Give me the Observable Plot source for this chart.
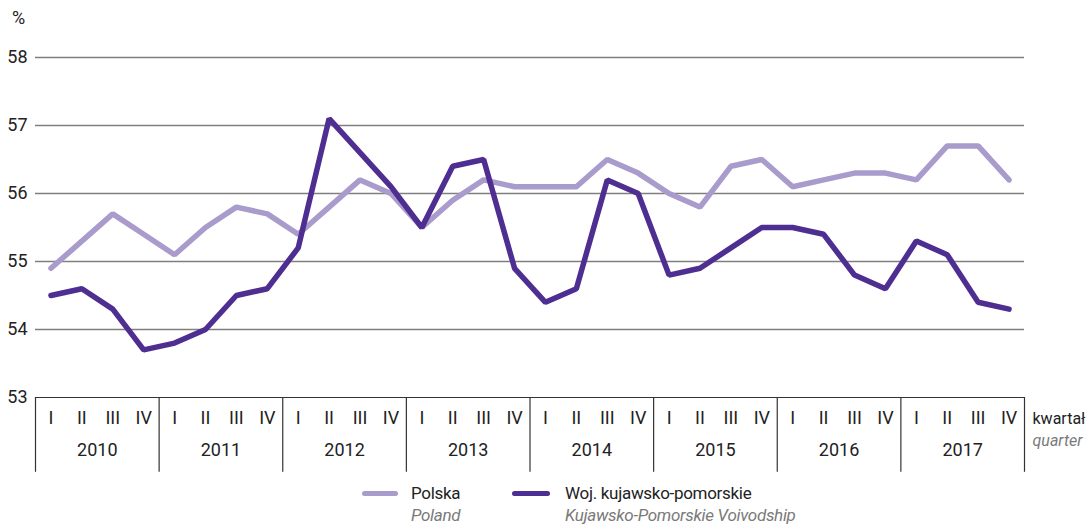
<!DOCTYPE html>
<html>
<head>
<meta charset="utf-8">
<script src="https://cdn.jsdelivr.net/npm/d3@7"></script>
<script src="https://cdn.jsdelivr.net/npm/@observablehq/plot@0.6"></script>
<style>
  html, body { margin: 0; padding: 0; background: #fff; }
  #wrap { position: relative; width: 1086px; height: 524px; font-family: Roboto, "Liberation Sans", sans-serif; color: #222; }
  #chart svg { display: block; }
  .leg { position: absolute; font-size: 17px; line-height: 22px; letter-spacing: -0.3px; white-space: nowrap; }
  .leg .en { font-style: italic; color: #7a7a7a; }
  .sw { position: absolute; height: 5px; border-radius: 3px; }
</style>
</head>
<body>
<div id="wrap">
  <div id="chart"></div>
</div>
<script>
const years = [2010, 2011, 2012, 2013, 2014, 2015, 2016, 2017];
const quarterNames = ["I", "II", "III", "IV"];
const polska = [
  54.9, 55.3, 55.7, 55.4,
  55.1, 55.5, 55.8, 55.7,
  55.4, 55.8, 56.2, 56.0,
  55.5, 55.9, 56.2, 56.1,
  56.1, 56.1, 56.5, 56.3,
  56.0, 55.8, 56.4, 56.5,
  56.1, 56.2, 56.3, 56.3,
  56.2, 56.7, 56.7, 56.2
];
const kujawsko = [
  54.5, 54.6, 54.3, 53.7,
  53.8, 54.0, 54.5, 54.6,
  55.2, 57.1, 56.6, 56.1,
  55.5, 56.4, 56.5, 54.9,
  54.4, 54.6, 56.2, 56.0,
  54.8, 54.9, 55.2, 55.5,
  55.5, 55.4, 54.8, 54.6,
  55.3, 55.1, 54.4, 54.3
];
const yTicks = [53, 54, 55, 56, 57, 58];
const seriesNames = ["Polska", "Woj. kujawsko-pomorskie"];
const seriesNamesEn = ["Poland", "Kujawsko-Pomorskie Voivodship"];
const colors = ["#a99bcb", "#4e2e91"];

const quarterLabels = years.flatMap(() => quarterNames);
const polskaData = polska.map((v, i) => ({ i, v }));
const kujData = kujawsko.map((v, i) => ({ i, v }));
const boundaries = d3.range(0, years.length * 4 + 1, 4);

const fontFamily = 'Roboto, "Liberation Sans", sans-serif';

const chart = Plot.plot({
  width: 1086,
  height: 480,
  marginLeft: 35,
  marginRight: 62,
  marginTop: 57,
  marginBottom: 83,
  style: { fontFamily, fontSize: "18px", color: "#222", background: "#fff" },
  x: { domain: [0, years.length * 4], axis: null },
  y: { domain: [53, 58], ticks: yTicks, tickFormat: d => String(d), tickSize: 0, tickPadding: 8, label: null },
  marks: [
    Plot.ruleY(yTicks.filter(t => t > 53), { stroke: "#7f7f7f", strokeWidth: 1.4 }),
    Plot.ruleY([53], { stroke: "#333", strokeWidth: 1.2 }),
    Plot.ruleX(boundaries, { x: d => d, y1: 53, y2: 51.9, stroke: "#333", strokeWidth: 1.2 }),
    Plot.text(quarterLabels, { x: (d, i) => i + 0.5, y: 53, dy: 21, text: d => d, fill: "#222" }),
    Plot.text(years, { x: (d, i) => 4 * i + 2, y: 53, dy: 53, text: d => String(d), fill: "#222" }),
    Plot.text(["kwartał"], { x: years.length * 4, y: 53, dx: 8, dy: 21, text: d => d, textAnchor: "start", fill: "#222", fontSize: 16, letterSpacing: -0.3 }),
    Plot.text(["quarter"], { x: years.length * 4, y: 53, dx: 8, dy: 43, text: d => d, textAnchor: "start", fill: "#7a7a7a", fontStyle: "italic", fontSize: 16, letterSpacing: -0.3 }),
    Plot.text(["%"], { x: 0, y: 58, dx: -17, dy: -39, text: d => d, fill: "#222" }),
    Plot.line(polskaData, { x: d => d.i + 0.5, y: "v", stroke: colors[0], strokeWidth: 5.5, strokeLinejoin: "miter" }),
    Plot.line(kujData, { x: d => d.i + 0.5, y: "v", stroke: colors[1], strokeWidth: 5.5, strokeLinejoin: "miter" })
  ]
});
document.getElementById("chart").appendChild(chart);

// Legend
const wrap = document.getElementById("wrap");
const legendPos = [{ sw: 362, txt: 411, w: 36 }, { sw: 512, txt: 565, w: 38 }];
seriesNames.forEach((name, k) => {
  const sw = document.createElement("div");
  sw.className = "sw";
  sw.style.left = legendPos[k].sw + "px";
  sw.style.top = "491px";
  sw.style.width = legendPos[k].w + "px";
  sw.style.background = colors[k];
  wrap.appendChild(sw);
  const t = document.createElement("div");
  t.className = "leg";
  t.style.left = legendPos[k].txt + "px";
  t.style.top = "482px";
  t.innerHTML = `<div>${name}</div><div class="en">${seriesNamesEn[k]}</div>`;
  wrap.appendChild(t);
});
</script>
</body>
</html>
